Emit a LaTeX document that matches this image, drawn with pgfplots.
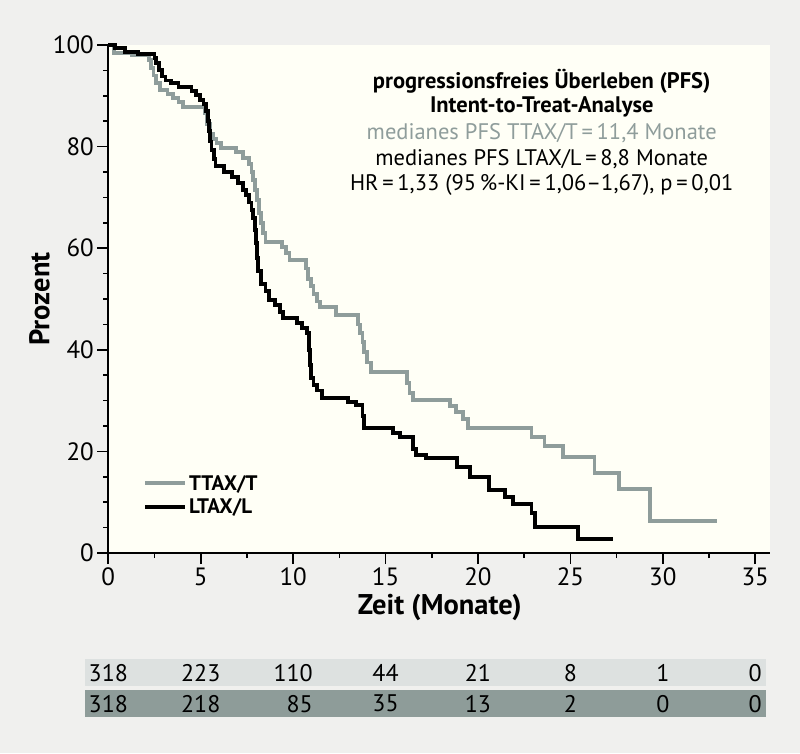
\documentclass[border=0pt]{standalone}
\usepackage{fontspec}
\setmainfont{PT Sans}
\usepackage{pgfplots}
\pgfplotsset{compat=1.18}
\definecolor{bg}{RGB}{240,240,238}
\definecolor{cream}{RGB}{255,255,246}
\definecolor{ttax}{RGB}{143,157,155}
\definecolor{rowa}{RGB}{221,225,224}
\definecolor{rowb}{RGB}{142,156,153}

\pgfplotstableread{
t p
0 100
0.3 98.5
1.3 98.0
2.2 97.0
2.3 95.5
2.45 94
2.6 92.5
2.8 91.1
3.2 90.3
3.5 89.6
3.8 88.8
4.05 87.8
5.2 86.5
5.35 84.5
5.5 82.5
5.65 81.5
5.85 80.7
6.1 79.7
6.9 78.9
7.3 77.8
7.6 76.5
7.75 75
7.85 73.4
7.95 71.5
8.05 69.5
8.15 67
8.25 65
8.35 63
8.5 61.2
9.4 60.2
9.6 59
9.8 57.7
10.7 56
10.8 54
10.95 52.5
11.1 51
11.3 49.5
11.45 48.4
12.3 46.9
13.5 45
13.6 43.3
13.75 41.5
13.85 39.5
14.0 37.5
14.2 35.6
16.15 33.5
16.3 31.5
16.5 30.1
18.5 29
18.8 27.8
19.2 26.3
19.45 24.6
22.9 22.8
23.6 21.1
24.6 18.9
26.3 15.7
27.65 12.6
29.3 6.3
32.95 6.3
}\ttaxdata

\pgfplotstableread{
t p
0 100
0.35 99.4
0.9 98.6
1.6 98.2
2.5 97.5
2.6 96.4
2.75 95
2.9 93.8
3.1 93.0
3.4 92.5
3.8 91.7
4.5 91.0
4.75 90.2
4.95 89.2
5.15 88.4
5.3 87
5.4 85
5.45 83
5.5 81
5.58 79.3
5.7 77.5
5.8 76.2
6.25 75
6.7 74
7.0 72.8
7.3 71.5
7.45 70.5
7.6 69
7.75 67.5
7.85 66
7.95 63.6
8.0 61
8.05 58
8.1 55.5
8.25 53
8.5 51.5
8.7 49.8
9.0 48.8
9.3 47.5
9.45 46.2
10.2 45.2
10.5 44.3
10.75 43.3
10.85 40
10.9 37
10.95 34.5
11.1 33
11.3 32
11.55 30.5
12.95 29.7
13.4 29.1
13.75 27
13.85 24.6
15.4 23.7
15.8 22.8
16.5 20.5
16.65 19.3
17.2 18.7
18.85 16.9
19.55 15
20.6 12.4
21.45 11
21.9 9.6
22.9 7.9
23.1 5.1
25.4 2.8
27.3 2.8
}\ltaxdata

\begin{document}
\begin{tikzpicture}[x=1pt,y=1pt]
\fill[bg] (0,0) rectangle (800,753);
\begin{axis}[
  at={(108.3pt,200pt)}, anchor=south west,
  scale only axis, width=661.7pt, height=508pt,
  xmin=0, xmax=35.8, ymin=0, ymax=100,
  axis lines=left,
  axis line style={-, line width=2pt, black},
  axis background/.style={fill=cream},
  tick align=outside,
  xtick={0,5,...,35}, minor x tick num=1,
  ytick={0,20,...,100}, minor y tick num=3,
  major tick length=11pt, minor tick length=5pt,
  every tick/.style={black, line width=1.6pt},
  tick label style={font=\fontsize{25}{29}\selectfont},
  /pgf/number format/assume math mode=true,
  xlabel={Zeit (Monate)}, ylabel={Prozent},
  label style={font=\bfseries\fontsize{28.5}{32}\selectfont},
  xlabel style={at={(axis description cs:0.501,-0.108)}, anchor=center},
  ylabel style={at={(axis description cs:-0.104,0.5)}, anchor=center},
  clip=false,
  legend style={draw=none, fill=none, at={(axis description cs:0.048,0.114)}, anchor=west,
    font=\bfseries\fontsize{21}{25}\selectfont, row sep=3pt,
    /tikz/every even column/.append style={column sep=6pt}},
  legend cell align=left,
  legend image code/.code={\draw[#1] (0pt,0pt) -- (40pt,0pt);},
]
\addplot[const plot, ttax, line width=3.8pt] table[x=t,y=p] {\ttaxdata};
\addlegendentry{TTAX/T}
\addplot[const plot, black, line width=3.8pt] table[x=t,y=p] {\ltaxdata};
\addlegendentry{LTAX/L}

\node[font=\bfseries\fontsize{22.5}{26}\selectfont] at (axis cs:23.45,92.8) {progressionsfreies Überleben (PFS)};
\node[font=\bfseries\fontsize{22.5}{26}\selectfont] at (axis cs:23.45,87.8) {Intent-to-Treat-Analyse};
\node[font=\fontsize{22.5}{26}\selectfont, text=ttax] at (axis cs:23.45,82.6) {medianes PFS TTAX/T\,=\,11,4 Monate};
\node[font=\fontsize{22.5}{26}\selectfont] at (axis cs:23.45,77.5) {medianes PFS LTAX/L\,=\,8,8 Monate};
\node[font=\fontsize{22.5}{26}\selectfont] at (axis cs:23.45,72.4) {HR\,=\,1,33 (95\,\%-KI\,=\,1,06--1,67), p\,=\,0,01};

\fill[rowa] (axis cs:-1.26,-20.9) rectangle (axis cs:35.6,-26.2);
\fill[rowb] (axis cs:-1.26,-27.0) rectangle (axis cs:35.6,-32.3);
\begin{scope}[every node/.style={font=\fontsize{24}{28}\selectfont, inner sep=0pt}]
\node at (axis cs:0,-23.55) {318};
\node at (axis cs:5,-23.55) {223};
\node at (axis cs:10,-23.55) {110};
\node at (axis cs:15,-23.55) {44};
\node at (axis cs:20,-23.55) {21};
\node at (axis cs:25,-23.55) {8};
\node at (axis cs:30,-23.55) {1};
\node at (axis cs:35,-23.55) {0};
\node at (axis cs:0,-29.65) {318};
\node at (axis cs:5,-29.65) {218};
\node[anchor=east] at (axis cs:11.07,-29.65) {85};
\node at (axis cs:15,-29.65) {35};
\node at (axis cs:20,-29.65) {13};
\node at (axis cs:25,-29.65) {2};
\node at (axis cs:30,-29.65) {0};
\node at (axis cs:35,-29.65) {0};
\end{scope}
\end{axis}
\pgfresetboundingbox
\useasboundingbox (0,0) rectangle (800,753);
\end{tikzpicture}
\end{document}
